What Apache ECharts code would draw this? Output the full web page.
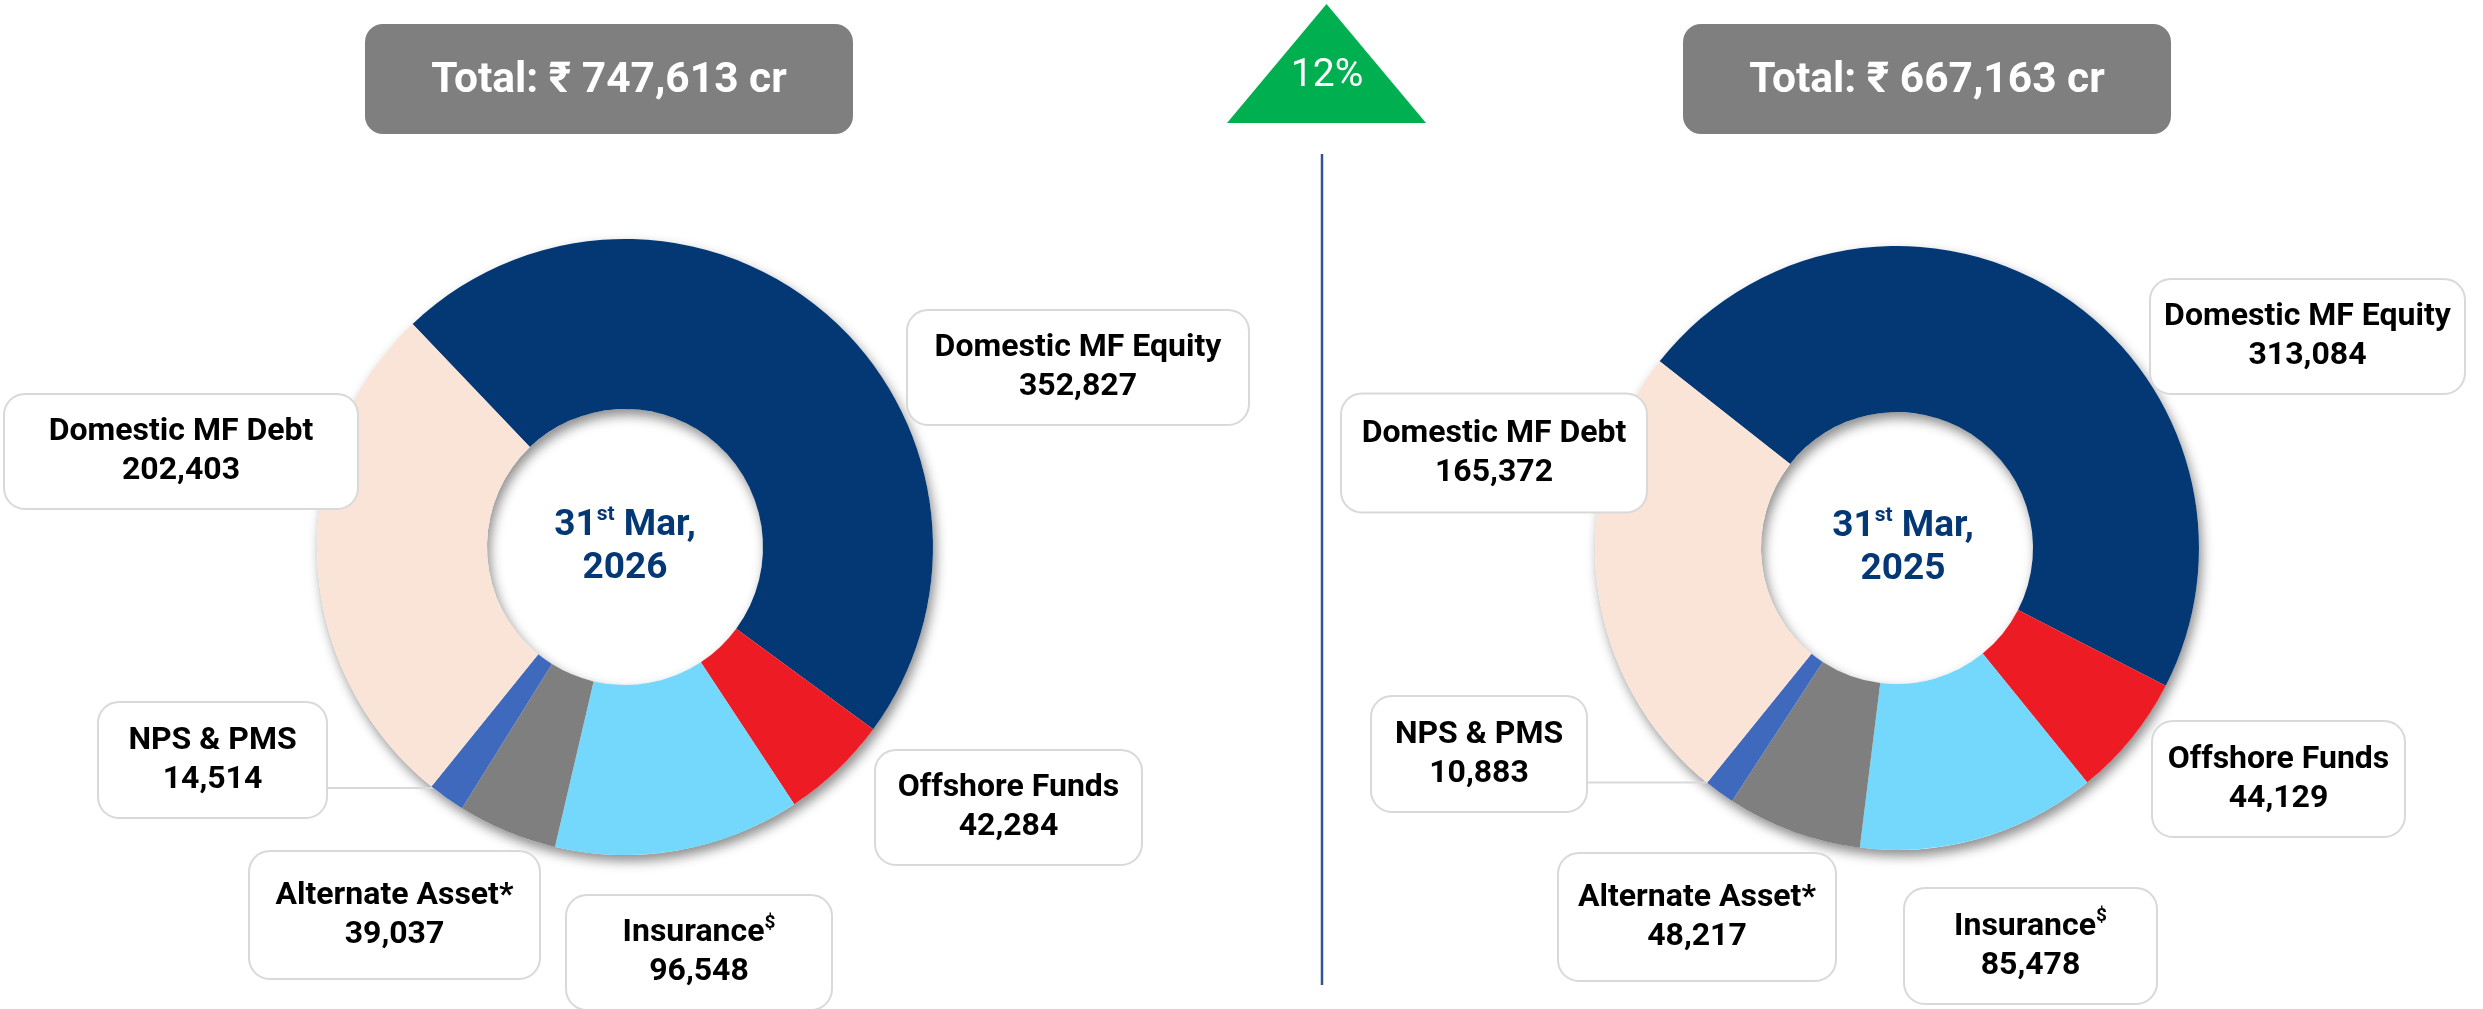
<!DOCTYPE html>
<html>
<head>
<meta charset="utf-8">
<script src="https://cdn.jsdelivr.net/npm/echarts@6/dist/echarts.min.js"></script>
<style>
html,body{margin:0;padding:0;background:#fff;}
#chart{width:2483px;height:1009px;}
</style>
</head>
<body>
<div id="chart"></div>
<script>
// ---------------- DATA ----------------
const categories = ['Domestic MF Equity', 'Offshore Funds', 'Insurance', 'Alternate Asset*', 'NPS & PMS', 'Domestic MF Debt'];
const categorySup = ['', '', '$', '', '', ''];
const values2026 = [352827, 42284, 96548, 39037, 14514, 202403];
const values2025 = [313084, 44129, 85478, 48217, 10883, 165372];
const periodDay = ['31', '31'];
const periodSup = ['st', 'st'];
const periodMonth = [' Mar,', ' Mar,'];
const periodYear = ['2026', '2025'];

// ---------------- STYLE / LAYOUT ----------------
const FONT = 'Roboto, "Noto Sans", "DejaVu Sans", sans-serif';
const sliceColors = ['#033874', '#ED1C24', '#74D7FC', '#7F7F7F', '#3E69BD', '#F9E4D7'];
const NAVY = '#033874';
// label boxes: [centerX, centerY, width, height]
const boxesLeft = [[1078, 367.5, 340, 113], [1008.5, 807.5, 265, 113], [699, 952.5, 264, 113], [394.5, 915, 289, 126], [212.5, 760, 227, 114], [181, 451.5, 352, 113]];
const boxesRight = [[2307.5, 336.5, 313, 113], [2278.5, 779, 251, 114], [2030.5, 946, 251, 114], [1697, 917, 276, 126], [1479, 754, 214, 114], [1494, 453, 304, 117]];
const NPS_INDEX = 4;

function fmt(v) { return v.toLocaleString('en-US'); }
function sum(a) { return a.reduce((s, v) => s + v, 0); }

const richLabel = {
  n: { fontFamily: FONT, fontSize: 32, fontWeight: 'bold', color: '#000', lineHeight: 39 },
  v: { fontFamily: FONT, fontSize: 32, fontWeight: 'bold', color: '#000', lineHeight: 39 },
  s: { fontFamily: FONT, fontSize: 19, fontWeight: 'bold', color: '#000', lineHeight: 30, verticalAlign: 'top' }
};

function buildPie(values, center, radius, startAngle, boxes) {
  const data = values.map((v, i) => ({
    name: categories[i],
    value: v,
    itemStyle: { color: sliceColors[i] },
    label: { width: boxes[i][2], padding: [(boxes[i][3] - 78) / 2, 0] },
    labelLine: i === NPS_INDEX ? { show: true, lineStyle: { color: '#D9D9D9', width: 2 } } : { show: false }
  }));
  return [
    {
      // shadow ring underneath
      type: 'pie', silent: true, z: 1,
      center: center, radius: radius, startAngle: startAngle,
      label: { show: false }, labelLine: { show: false },
      itemStyle: { color: '#ffffff', shadowBlur: 12, shadowColor: 'rgba(0,0,0,0.45)', shadowOffsetX: 3, shadowOffsetY: 6 },
      data: [{ value: 1 }]
    },
    {
      type: 'pie', silent: true, z: 2,
      center: center, radius: radius, startAngle: startAngle, clockwise: true,
      avoidLabelOverlap: false,
      itemStyle: { borderWidth: 0 },
      label: {
        show: true, position: 'outside',
        formatter: p => '{n|' + categories[p.dataIndex] + '}' + (categorySup[p.dataIndex] ? '{s|' + categorySup[p.dataIndex] + '}' : '') + '\n{v|' + fmt(p.value) + '}',
        rich: richLabel,
        backgroundColor: '#ffffff', borderColor: '#D9D9D9', borderWidth: 2, borderRadius: 20,
        align: 'center', verticalAlign: 'middle'
      },
      labelLine: { show: false },
      labelLayout: function (p) {
        const b = boxes[p.dataIndex];
        const res = { x: b[0], y: b[1], align: 'center', verticalAlign: 'middle' };
        if (p.dataIndex === NPS_INDEX && p.labelLinePoints) {
          const q = p.labelLinePoints[0];
          const ex = center[0] + (q[0] - center[0]) * 0.96;
          const ey = center[1] + (q[1] - center[1]) * 0.96;
          const bx = b[0] + b[2] / 2;
          res.labelLinePoints = [[ex, ey], [(ex + bx) / 2, ey], [bx, ey]];
        }
        return res;
      },
      data: data
    }
  ];
}

const total2026 = sum(values2026);
const total2025 = sum(values2025);
const growth = Math.round((total2026 / total2025 - 1) * 100) + '%';

function centerText(x, y, k) {
  return {
    type: 'text', x: x, y: y, z: 10,
    style: {
      text: '{a|' + periodDay[k] + '}{s|' + periodSup[k] + '}{a|' + periodMonth[k] + '}\n{a|' + periodYear[k] + '}',
      align: 'center', verticalAlign: 'middle',
      rich: {
        a: { fontFamily: FONT, fontSize: 37, fontWeight: 'bold', fill: NAVY, lineHeight: 43 },
        s: { fontFamily: FONT, fontSize: 21, fontWeight: 'bold', fill: NAVY, lineHeight: 32, verticalAlign: 'top' }
      }
    }
  };
}

function totalBox(x, total) {
  return [
    { type: 'rect', shape: { x: x, y: 24, width: 488, height: 110, r: 18 }, style: { fill: '#7F7F7F' }, z: 5 },
    { type: 'text', x: x + 244, y: 81, z: 6,
      style: { text: 'Total: \u20B9 ' + fmt(total) + ' cr', fill: '#ffffff', align: 'center', verticalAlign: 'middle',
               fontFamily: FONT, fontSize: 42.5, fontWeight: 'bold' } }
  ];
}

const option = {
  animation: false,
  backgroundColor: '#ffffff',
  series: [].concat(
    buildPie(values2026, [625, 547], [138, 308], 133.6, boxesLeft),
    buildPie(values2025, [1897, 548], [136, 302], 141.8, boxesRight)
  ),
  graphic: [].concat(
    totalBox(365, total2026),
    totalBox(1683, total2025),
    [
      { type: 'polygon', shape: { points: [[1326.5, 4], [1227, 123], [1426, 123]] }, style: { fill: '#00B050' }, z: 5 },
      { type: 'text', x: 1327, y: 76, z: 6,
        style: { text: growth, fill: '#ffffff', align: 'center', verticalAlign: 'middle', fontFamily: FONT, fontSize: 39, fontWeight: 'normal' } },
      { type: 'line', shape: { x1: 1322, y1: 154, x2: 1322, y2: 985 }, style: { stroke: '#2F5597', lineWidth: 2.5 }, z: 5 },
      centerText(625, 547.5, 0),
      centerText(1903, 548, 1)
    ]
  )
};

const chart = echarts.init(document.getElementById('chart'), null, { renderer: 'canvas' });
chart.setOption(option);
</script>
</body>
</html>
